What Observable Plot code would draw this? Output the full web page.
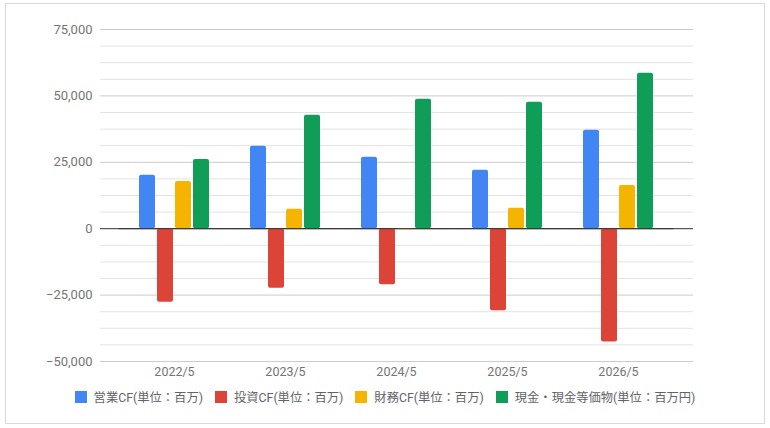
<!DOCTYPE html>
<html>
<head>
<meta charset="utf-8">
<script src="https://cdn.jsdelivr.net/npm/d3@7"></script>
<script src="https://cdn.jsdelivr.net/npm/@observablehq/plot@0.6"></script>
<style>
  html, body { margin: 0; padding: 0; background: #fff; }
  body { width: 770px; height: 428px; position: relative; overflow: hidden;
         font-family: Roboto, "Noto Sans CJK JP", sans-serif; }
  #frame { position: absolute; left: 5px; top: 3px; width: 758px; height: 419px;
           border: 1px solid #d9d9d9; }
  .layer { position: absolute; left: 0; top: 0; }
  #legend { position: absolute; left: 0; top: 388px; width: 770px; display: flex;
            justify-content: center; align-items: center; font-size: 12.3px; color: #5f6368; }
  #legend .item { display: flex; align-items: center; margin: 0 6px; }
  #legend .sw { width: 12px; height: 12px; margin-right: 7px; display: inline-block; }
</style>
</head>
<body>
<div id="frame"></div>
<div id="under" class="layer"></div>
<div id="over" class="layer"></div>
<div id="legend"></div>
<script>
const years = ["2022/5", "2023/5", "2024/5", "2025/5", "2026/5"];
const series = ["営業CF(単位：百万)", "投資CF(単位：百万)", "財務CF(単位：百万)", "現金・現金等価物(単位：百万円)"];
const colors = ["#4285f4", "#db4437", "#f4b400", "#0f9d58"];
const operatingCF = [20100, 31000, 26900, 22000, 37100];
const investingCF = [-27700, -22400, -21100, -30900, -42700];
const financingCF = [17800, 7300, -400, 7700, 16300];
const cashEq = [26100, 42700, 48700, 47600, 58500];
const yTicks = [-50000, -25000, 0, 25000, 50000, 75000];
const minorTicks = d3.range(-50000, 75001, 6250);

const seriesValues = [operatingCF, investingCF, financingCF, cashEq];
const data = [];
years.forEach((yr, i) => series.forEach((s, j) => data.push({year: yr, series: s, value: seriesValues[j][i]})));

const W = 770, H = 390, MT = 29, MB = 29;
const font = "Roboto, 'Noto Sans CJK JP', sans-serif";

const under = Plot.plot({
  width: W, height: H,
  marginTop: MT, marginBottom: MB, marginLeft: 100, marginRight: 77,
  style: {background: "transparent", fontFamily: font, fontSize: "13px", color: "#757575"},
  x: {axis: null, domain: [0, 1]},
  y: {domain: [-50000, 75000], ticks: yTicks, tickFormat: d3.format(","), tickSize: 0, tickPadding: 8, label: null},
  marks: [
    Plot.ruleY(minorTicks.filter(d => d % 25000 !== 0), {stroke: "#e3e3e3", strokeWidth: 1}),
    Plot.ruleY(yTicks.filter(d => d !== 0), {stroke: "#cbcbcb", strokeWidth: 1}),
    Plot.ruleY([0], {stroke: "#333", strokeWidth: 1})
  ]
});
document.getElementById("under").appendChild(under);

const over = Plot.plot({
  width: W, height: H,
  marginTop: MT, marginBottom: MB, marginLeft: 118.5, marginRight: 96.5,
  style: {background: "transparent", fontFamily: font, fontSize: "12.5px", color: "#757575"},
  fx: {domain: years, padding: 0, round: false, tickSize: 0, tickPadding: 6, label: null, axis: "bottom"},
  x: {domain: series, axis: null, round: false, paddingInner: 0.111, paddingOuter: 1.139},
  y: {domain: [-50000, 75000], axis: null},
  color: {domain: series, range: colors},
  marks: [
    Plot.barY(data, {fx: "year", x: "series", y: "value", fill: "series", rx: 2}),
    Plot.ruleY([0], {stroke: "#333", strokeWidth: 1})
  ]
});
document.getElementById("over").appendChild(over);

const legend = document.getElementById("legend");
series.forEach((s, j) => {
  const item = document.createElement("div");
  item.className = "item";
  const sw = document.createElement("span");
  sw.className = "sw";
  sw.style.background = colors[j];
  const t = document.createElement("span");
  t.textContent = s;
  item.appendChild(sw);
  item.appendChild(t);
  legend.appendChild(item);
});
</script>
</body>
</html>
